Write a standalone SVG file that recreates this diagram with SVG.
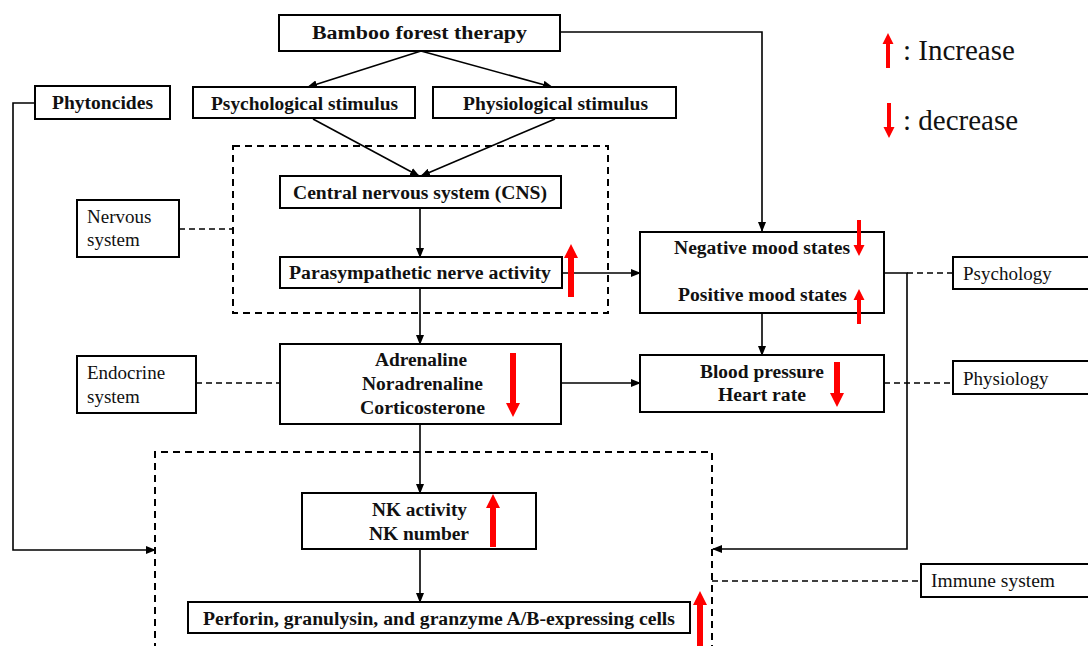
<svg xmlns="http://www.w3.org/2000/svg" width="1088" height="646" viewBox="0 0 1088 646">
<style>
.box{fill:#fff;stroke:#000;stroke-width:2}
text{font-family:'Liberation Serif','Times New Roman',Times,serif;fill:#111}
.b{font-weight:bold;font-size:18px}
.r{font-size:19px}
.lg{font-size:29px}
.c{fill:none;stroke:#000;stroke-width:1.6}
.d{fill:none;stroke:#000;stroke-width:1.6;stroke-dasharray:6 4}
.dz{fill:none;stroke:#000;stroke-width:2;stroke-dasharray:7 5}
.red{fill:#f00;stroke:none}
</style>
<defs>
<marker id="ah" markerUnits="userSpaceOnUse" markerWidth="10" markerHeight="8" refX="9" refY="4" orient="auto">
<path d="M0,0 L10,4 L0,8 Z" fill="#000"/>
</marker>
</defs>
<rect width="1088" height="646" fill="#fff"/>

<g id="connectors">
<line class="c" x1="421" y1="51" x2="308" y2="87" marker-end="url(#ah)"/>
<line class="c" x1="421" y1="51" x2="552" y2="87" marker-end="url(#ah)"/>
<polyline class="c" points="560,32 762,32 762,231" marker-end="url(#ah)"/>
<line class="c" x1="313" y1="119" x2="419" y2="176" marker-end="url(#ah)"/>
<line class="c" x1="555" y1="119" x2="421" y2="176" marker-end="url(#ah)"/>
<line class="c" x1="420" y1="208" x2="420" y2="257" marker-end="url(#ah)"/>
<line class="c" x1="562" y1="273" x2="640" y2="273" marker-end="url(#ah)"/>
<line class="c" x1="420" y1="289" x2="420" y2="344" marker-end="url(#ah)"/>
<line class="c" x1="561" y1="383" x2="640" y2="383" marker-end="url(#ah)"/>
<line class="c" x1="762" y1="313" x2="762" y2="355" marker-end="url(#ah)"/>
<line class="c" x1="420" y1="424" x2="420" y2="493" marker-end="url(#ah)"/>
<line class="c" x1="420" y1="550" x2="420" y2="602" marker-end="url(#ah)"/>
<polyline class="c" points="35,103 13,103 13,550 155,550" marker-end="url(#ah)"/>
<polyline class="c" points="884,273 907,273 907,549 713,549" marker-end="url(#ah)"/>
<line class="d" x1="179" y1="229" x2="233" y2="229"/>
<line class="d" x1="196" y1="383" x2="280" y2="383"/>
<line class="d" x1="907" y1="273" x2="953" y2="273"/>
<line class="d" x1="884" y1="383" x2="953" y2="383"/>
<line class="d" x1="712" y1="581" x2="921" y2="581"/>
</g>

<g id="nervous-group"><rect class="dz" x="233" y="146" width="375" height="167"/></g>
<g id="immune-group"><path class="dz" d="M155,650 V452 H712 V650"/></g>

<g id="bamboo"><rect class="box" x="279" y="15" width="281" height="36"/>
<text class="b" x="312" y="39" font-size="19" textLength="215" lengthAdjust="spacingAndGlyphs">Bamboo forest therapy</text></g>

<g id="phytoncides"><rect class="box" x="35" y="86" width="135" height="33"/>
<text class="b" x="52" y="109" textLength="101" lengthAdjust="spacingAndGlyphs">Phytoncides</text></g>

<g id="psych-stim"><rect class="box" x="193" y="87" width="222" height="31"/>
<text class="b" x="211" y="110" textLength="187" lengthAdjust="spacingAndGlyphs">Psychological stimulus</text></g>

<g id="physio-stim"><rect class="box" x="433" y="87" width="243" height="31"/>
<text class="b" x="463" y="110" textLength="185" lengthAdjust="spacingAndGlyphs">Physiological stimulus</text></g>

<g id="cns"><rect class="box" x="280" y="176" width="281" height="32"/>
<text class="b" x="293" y="199" textLength="254" lengthAdjust="spacingAndGlyphs">Central nervous system (CNS)</text></g>

<g id="parasympathetic"><rect class="box" x="280" y="257" width="282" height="31"/>
<text class="b" x="289" y="279" textLength="262" lengthAdjust="spacingAndGlyphs">Parasympathetic nerve activity</text>
<polygon class="red" points="571,244 578,258 574,258 574,297 568,297 568,258 564,258"/></g>

<g id="nervous-system"><rect class="box" x="77" y="200" width="102" height="57"/>
<text class="r" x="87" y="223">Nervous</text><text class="r" x="87" y="246">system</text></g>

<g id="mood"><rect class="box" x="640" y="232" width="244" height="81"/>
<text class="b" x="674" y="254" textLength="176" lengthAdjust="spacingAndGlyphs">Negative mood states</text>
<text class="b" x="678" y="301" textLength="169" lengthAdjust="spacingAndGlyphs">Positive mood states</text>
<polygon class="red" points="859,256 864.5,245 861,245 861,220 857,220 857,245 853.5,245"/>
<polygon class="red" points="859,289 864.5,300 861,300 861,324 857,324 857,300 853.5,300"/></g>

<g id="psychology"><rect class="box" x="953" y="257" width="140" height="32"/>
<text class="r" x="963" y="280">Psychology</text></g>

<g id="hormones"><rect class="box" x="280" y="344" width="281" height="80"/>
<text class="b" x="375" y="366" textLength="92" lengthAdjust="spacingAndGlyphs">Adrenaline</text>
<text class="b" x="362" y="390" textLength="121" lengthAdjust="spacingAndGlyphs">Noradrenaline</text>
<text class="b" x="360" y="414" textLength="125" lengthAdjust="spacingAndGlyphs">Corticosterone</text>
<polygon class="red" points="513,417 520,403 516,403 516,353 510,353 510,403 506,403"/></g>

<g id="endocrine"><rect class="box" x="77" y="356" width="119" height="57"/>
<text class="r" x="87" y="379">Endocrine</text><text class="r" x="87" y="403">system</text></g>

<g id="blood-pressure"><rect class="box" x="640" y="355" width="244" height="57"/>
<text class="b" x="700" y="378" textLength="124" lengthAdjust="spacingAndGlyphs">Blood pressure</text>
<text class="b" x="718" y="401" textLength="88" lengthAdjust="spacingAndGlyphs">Heart rate</text>
<polygon class="red" points="837,407 844,393 840,393 840,362 834,362 834,393 830,393"/></g>

<g id="physiology"><rect class="box" x="953" y="361" width="140" height="33"/>
<text class="r" x="963" y="385">Physiology</text></g>

<g id="nk"><rect class="box" x="302" y="493" width="234" height="56"/>
<text class="b" x="372" y="516" textLength="95" lengthAdjust="spacingAndGlyphs">NK activity</text>
<text class="b" x="369" y="540" textLength="100" lengthAdjust="spacingAndGlyphs">NK number</text>
<polygon class="red" points="493,494 500,508 496,508 496,547 490,547 490,508 486,508"/></g>

<g id="perforin"><rect class="box" x="188" y="602" width="502" height="31"/>
<text class="b" x="203" y="625" textLength="472" lengthAdjust="spacingAndGlyphs">Perforin, granulysin, and granzyme A/B-expressing cells</text>
<polygon class="red" points="700,591 707,605 703,605 703,646 697,646 697,605 693,605"/></g>

<g id="immune-system"><rect class="box" x="921" y="564" width="172" height="33"/>
<text class="r" x="931" y="587" textLength="124" lengthAdjust="spacingAndGlyphs">Immune system</text></g>

<g id="legend">
<polygon class="red" points="888,33 893.5,44 890,44 890,68 886,68 886,44 882.5,44"/>
<text class="lg" x="903" y="60">: Increase</text>
<polygon class="red" points="889,138 894.5,127 891,127 891,103 887,103 887,127 883.5,127"/>
<text class="lg" x="903" y="130">: decrease</text>
</g>
</svg>
